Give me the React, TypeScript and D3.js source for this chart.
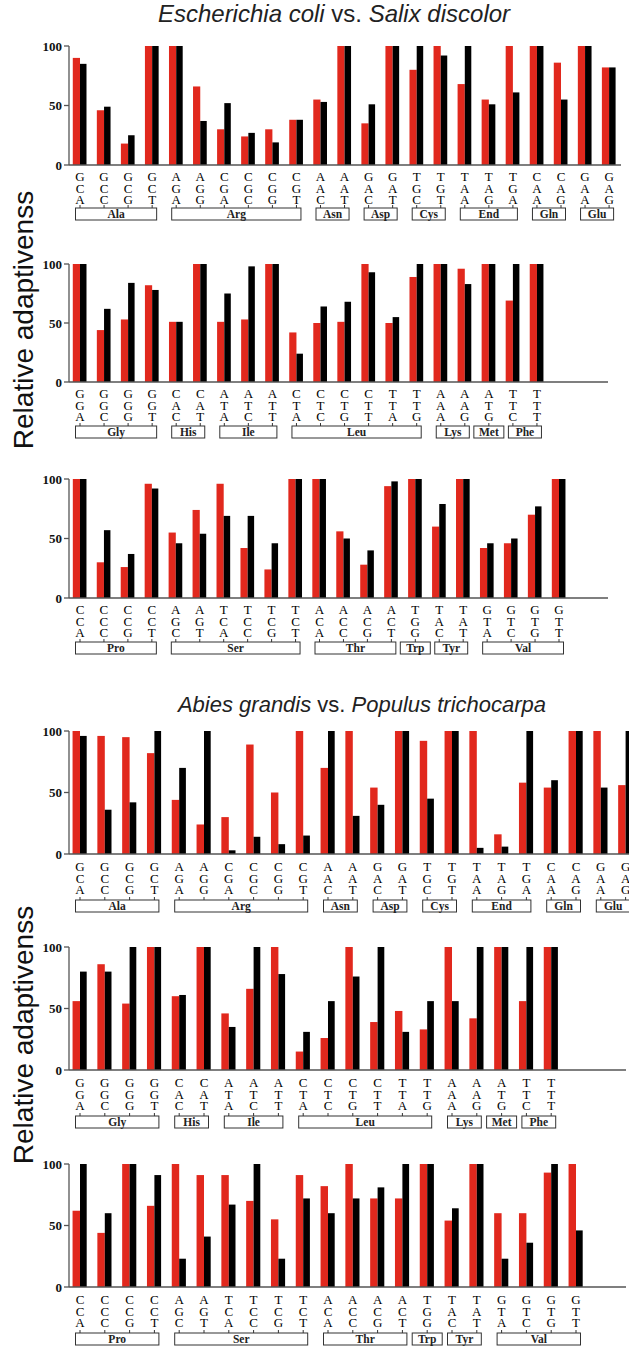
import React from "react";
import * as d3 from "d3";

// codon groups per row (amino acid -> codons)
const groupsA: [string, string[]][] = [
  ["Ala", ["GCA", "GCC", "GCG", "GCT"]],
  ["Arg", ["AGA", "AGG", "CGA", "CGC", "CGG", "CGT"]],
  ["Asn", ["AAC", "AAT"]],
  ["Asp", ["GAC", "GAT"]],
  ["Cys", ["TGC", "TGT"]],
  ["End", ["TAA", "TAG", "TGA"]],
  ["Gln", ["CAA", "CAG"]],
  ["Glu", ["GAA", "GAG"]],
];
const groupsB: [string, string[]][] = [
  ["Gly", ["GGA", "GGC", "GGG", "GGT"]],
  ["His", ["CAC", "CAT"]],
  ["Ile", ["ATA", "ATC", "ATT"]],
  ["Leu", ["CTA", "CTC", "CTG", "CTT", "TTA", "TTG"]],
  ["Lys", ["AAA", "AAG"]],
  ["Met", ["ATG"]],
  ["Phe", ["TTC", "TTT"]],
];
const groupsC: [string, string[]][] = [
  ["Pro", ["CCA", "CCC", "CCG", "CCT"]],
  ["Ser", ["AGC", "AGT", "TCA", "TCC", "TCG", "TCT"]],
  ["Thr", ["ACA", "ACC", "ACG", "ACT"]],
  ["Trp", ["TGG"]],
  ["Tyr", ["TAC", "TAT"]],
  ["Val", ["GTA", "GTC", "GTG", "GTT"]],
];

// relative adaptiveness (%) — red = first species, black = second
const ecoliA = [90, 46, 18, 100, 100, 66, 30, 24, 30, 38, 55, 100, 35, 100, 80, 100, 68, 55, 100, 100, 86, 100, 82];
const salixA = [85, 49, 25, 100, 100, 37, 52, 27, 19, 38, 53, 100, 51, 100, 100, 92, 100, 51, 61, 100, 55, 100, 82];
const ecoliB = [100, 44, 53, 82, 51, 100, 51, 53, 100, 42, 50, 51, 100, 50, 89, 100, 96, 100, 69, 100];
const salixB = [100, 62, 84, 78, 51, 100, 75, 98, 100, 24, 64, 68, 93, 55, 100, 100, 83, 100, 100, 100];
const ecoliC = [100, 30, 26, 96, 55, 74, 96, 42, 24, 100, 100, 56, 28, 94, 100, 60, 100, 42, 46, 70, 100];
const salixC = [100, 57, 37, 92, 46, 54, 69, 69, 46, 100, 100, 50, 40, 98, 100, 79, 100, 46, 50, 77, 100];

const abiesA = [100, 96, 95, 82, 44, 24, 30, 89, 50, 100, 70, 100, 54, 100, 92, 100, 100, 16, 58, 54, 100, 100, 56];
const populusA = [96, 36, 42, 100, 70, 100, 3, 14, 8, 15, 100, 31, 40, 100, 45, 100, 5, 6, 100, 60, 100, 54, 100];
const abiesB = [56, 86, 54, 100, 60, 100, 46, 66, 100, 15, 26, 100, 39, 48, 33, 100, 42, 100, 56, 100];
const populusB = [80, 80, 100, 100, 61, 100, 35, 100, 78, 31, 56, 76, 100, 31, 56, 56, 100, 100, 100, 100];
const abiesC = [62, 44, 100, 66, 100, 91, 91, 70, 55, 91, 82, 100, 72, 72, 100, 54, 100, 60, 60, 93, 100];
const populusC = [100, 60, 100, 91, 23, 41, 67, 100, 23, 72, 60, 72, 81, 100, 100, 64, 100, 23, 36, 100, 46];

const yTicks = [0, 50, 100];

const RED = "#e1281d";
const SERIF = "'Liberation Serif', 'Times New Roman', serif";
const SANS = "'Liberation Sans', Arial, sans-serif";

type PanelProps = {
  groups: [string, string[]][];
  redVals: number[];
  blackVals: number[];
  y0: number;
  y100: number;
  pitch: number;
  axisEnd: number;
  boxOff: number;
  letterOff: number;
};

const AXIS_X = 69;
const FIRST_X = 80;

function Panel({ groups, redVals, blackVals, y0, y100, pitch, axisEnd, boxOff, letterOff }: PanelProps) {
  const codons = groups.flatMap((g) => g[1]);
  const x = d3.scaleLinear().domain([0, 1]).range([FIRST_X, FIRST_X + pitch]);
  const y = d3.scaleLinear().domain([0, 100]).range([y0, y100]);
  const rw = pitch * 0.3;
  const bw = pitch * 0.27;
  const boxTop = y0 + boxOff;
  let idx = 0;
  const boxes = groups.map(([aa, cs]) => {
    const first = idx;
    const last = idx + cs.length - 1;
    idx += cs.length;
    const mid = (x(first) + x(last)) / 2;
    const half = Math.max((x(last) - x(first)) / 2 + 4.5, 15);
    return { aa, x1: mid - half, x2: mid + half, mid };
  });
  return (
    <g>
      {codons.map((c, i) => (
        <g key={c}>
          <rect x={x(i) - rw} y={y(redVals[i])} width={rw} height={y0 - y(redVals[i])} fill={RED} />
          <rect x={x(i)} y={y(blackVals[i])} width={bw} height={y0 - y(blackVals[i])} fill="#000" />
          {/* codon written top-to-bottom as one stacked label */}
          <text
            x={x(i)}
            y={y0 + letterOff - 7}
            fontFamily={SERIF}
            fontSize={13}
            fill="#000"
            style={{ writingMode: "vertical-rl", textOrientation: "upright", letterSpacing: "-3.4px" } as any}
          >
            {c}
          </text>
          <line x1={x(i)} x2={x(i)} y1={boxTop - 3} y2={boxTop} stroke="#333" strokeWidth={1} />
        </g>
      ))}
      {boxes.map((b) => (
        <g key={b.aa}>
          <rect x={b.x1} y={boxTop} width={b.x2 - b.x1} height={12} fill="#fff" stroke="#333" strokeWidth={1} />
          <text x={b.mid} y={boxTop + 10} textAnchor="middle" fontFamily={SERIF} fontSize={11.5} fontWeight="bold" fill="#222">
            {b.aa}
          </text>
        </g>
      ))}
      <line x1={AXIS_X} x2={axisEnd} y1={y0} y2={y0} stroke="#555" strokeWidth={1.3} />
      <line x1={AXIS_X} x2={AXIS_X} y1={y100} y2={y0} stroke="#555" strokeWidth={1.3} />
      {yTicks.map((t) => (
        <g key={t}>
          <line x1={AXIS_X - 5} x2={AXIS_X} y1={y(t)} y2={y(t)} stroke="#555" strokeWidth={1.3} />
          <text x={AXIS_X - 7} y={y(t) + 4.5} textAnchor="end" fontFamily={SERIF} fontSize={13} fontWeight="bold" fill="#111">
            {t}
          </text>
        </g>
      ))}
    </g>
  );
}

export default function App() {
  return (
    <svg
      width={629}
      height={1348}
      style={{ position: "absolute", left: 0, top: 0, background: "#fff" }}
    >
      <text x={334} y={22} textAnchor="middle" fontFamily={SANS} fontSize={24} fill="#222">
        <tspan fontStyle="italic">Escherichia coli</tspan>
        <tspan> vs. </tspan>
        <tspan fontStyle="italic">Salix discolor</tspan>
      </text>
      <text x={362} y={712} textAnchor="middle" fontFamily={SANS} fontSize={22} fill="#222">
        <tspan fontStyle="italic">Abies grandis</tspan>
        <tspan> vs. </tspan>
        <tspan fontStyle="italic">Populus trichocarpa</tspan>
      </text>
      <text transform="translate(33,320) rotate(-90)" textAnchor="middle" fontFamily={SANS} fontSize={28} fill="#111">
        Relative adaptivenss
      </text>
      <text transform="translate(33,1035) rotate(-90)" textAnchor="middle" fontFamily={SANS} fontSize={28} fill="#111">
        Relative adaptivenss
      </text>

      <Panel groups={groupsA} redVals={ecoliA} blackVals={salixA} y0={165} y100={46} pitch={24.05} axisEnd={621} boxOff={43} letterOff={11} />
      <Panel groups={groupsB} redVals={ecoliB} blackVals={salixB} y0={382} y100={264} pitch={24.05} axisEnd={608} boxOff={44} letterOff={11} />
      <Panel groups={groupsC} redVals={ecoliC} blackVals={salixC} y0={598} y100={479} pitch={23.95} axisEnd={608} boxOff={44} letterOff={11} />

      <Panel groups={groupsA} redVals={abiesA} blackVals={populusA} y0={854} y100={731} pitch={24.8} axisEnd={629} boxOff={46} letterOff={12} />
      <Panel groups={groupsB} redVals={abiesB} blackVals={populusB} y0={1070} y100={947} pitch={24.8} axisEnd={626} boxOff={46} letterOff={12} />
      <Panel groups={groupsC} redVals={abiesC} blackVals={populusC} y0={1287} y100={1164} pitch={24.8} axisEnd={626} boxOff={46} letterOff={12} />
    </svg>
  );
}
